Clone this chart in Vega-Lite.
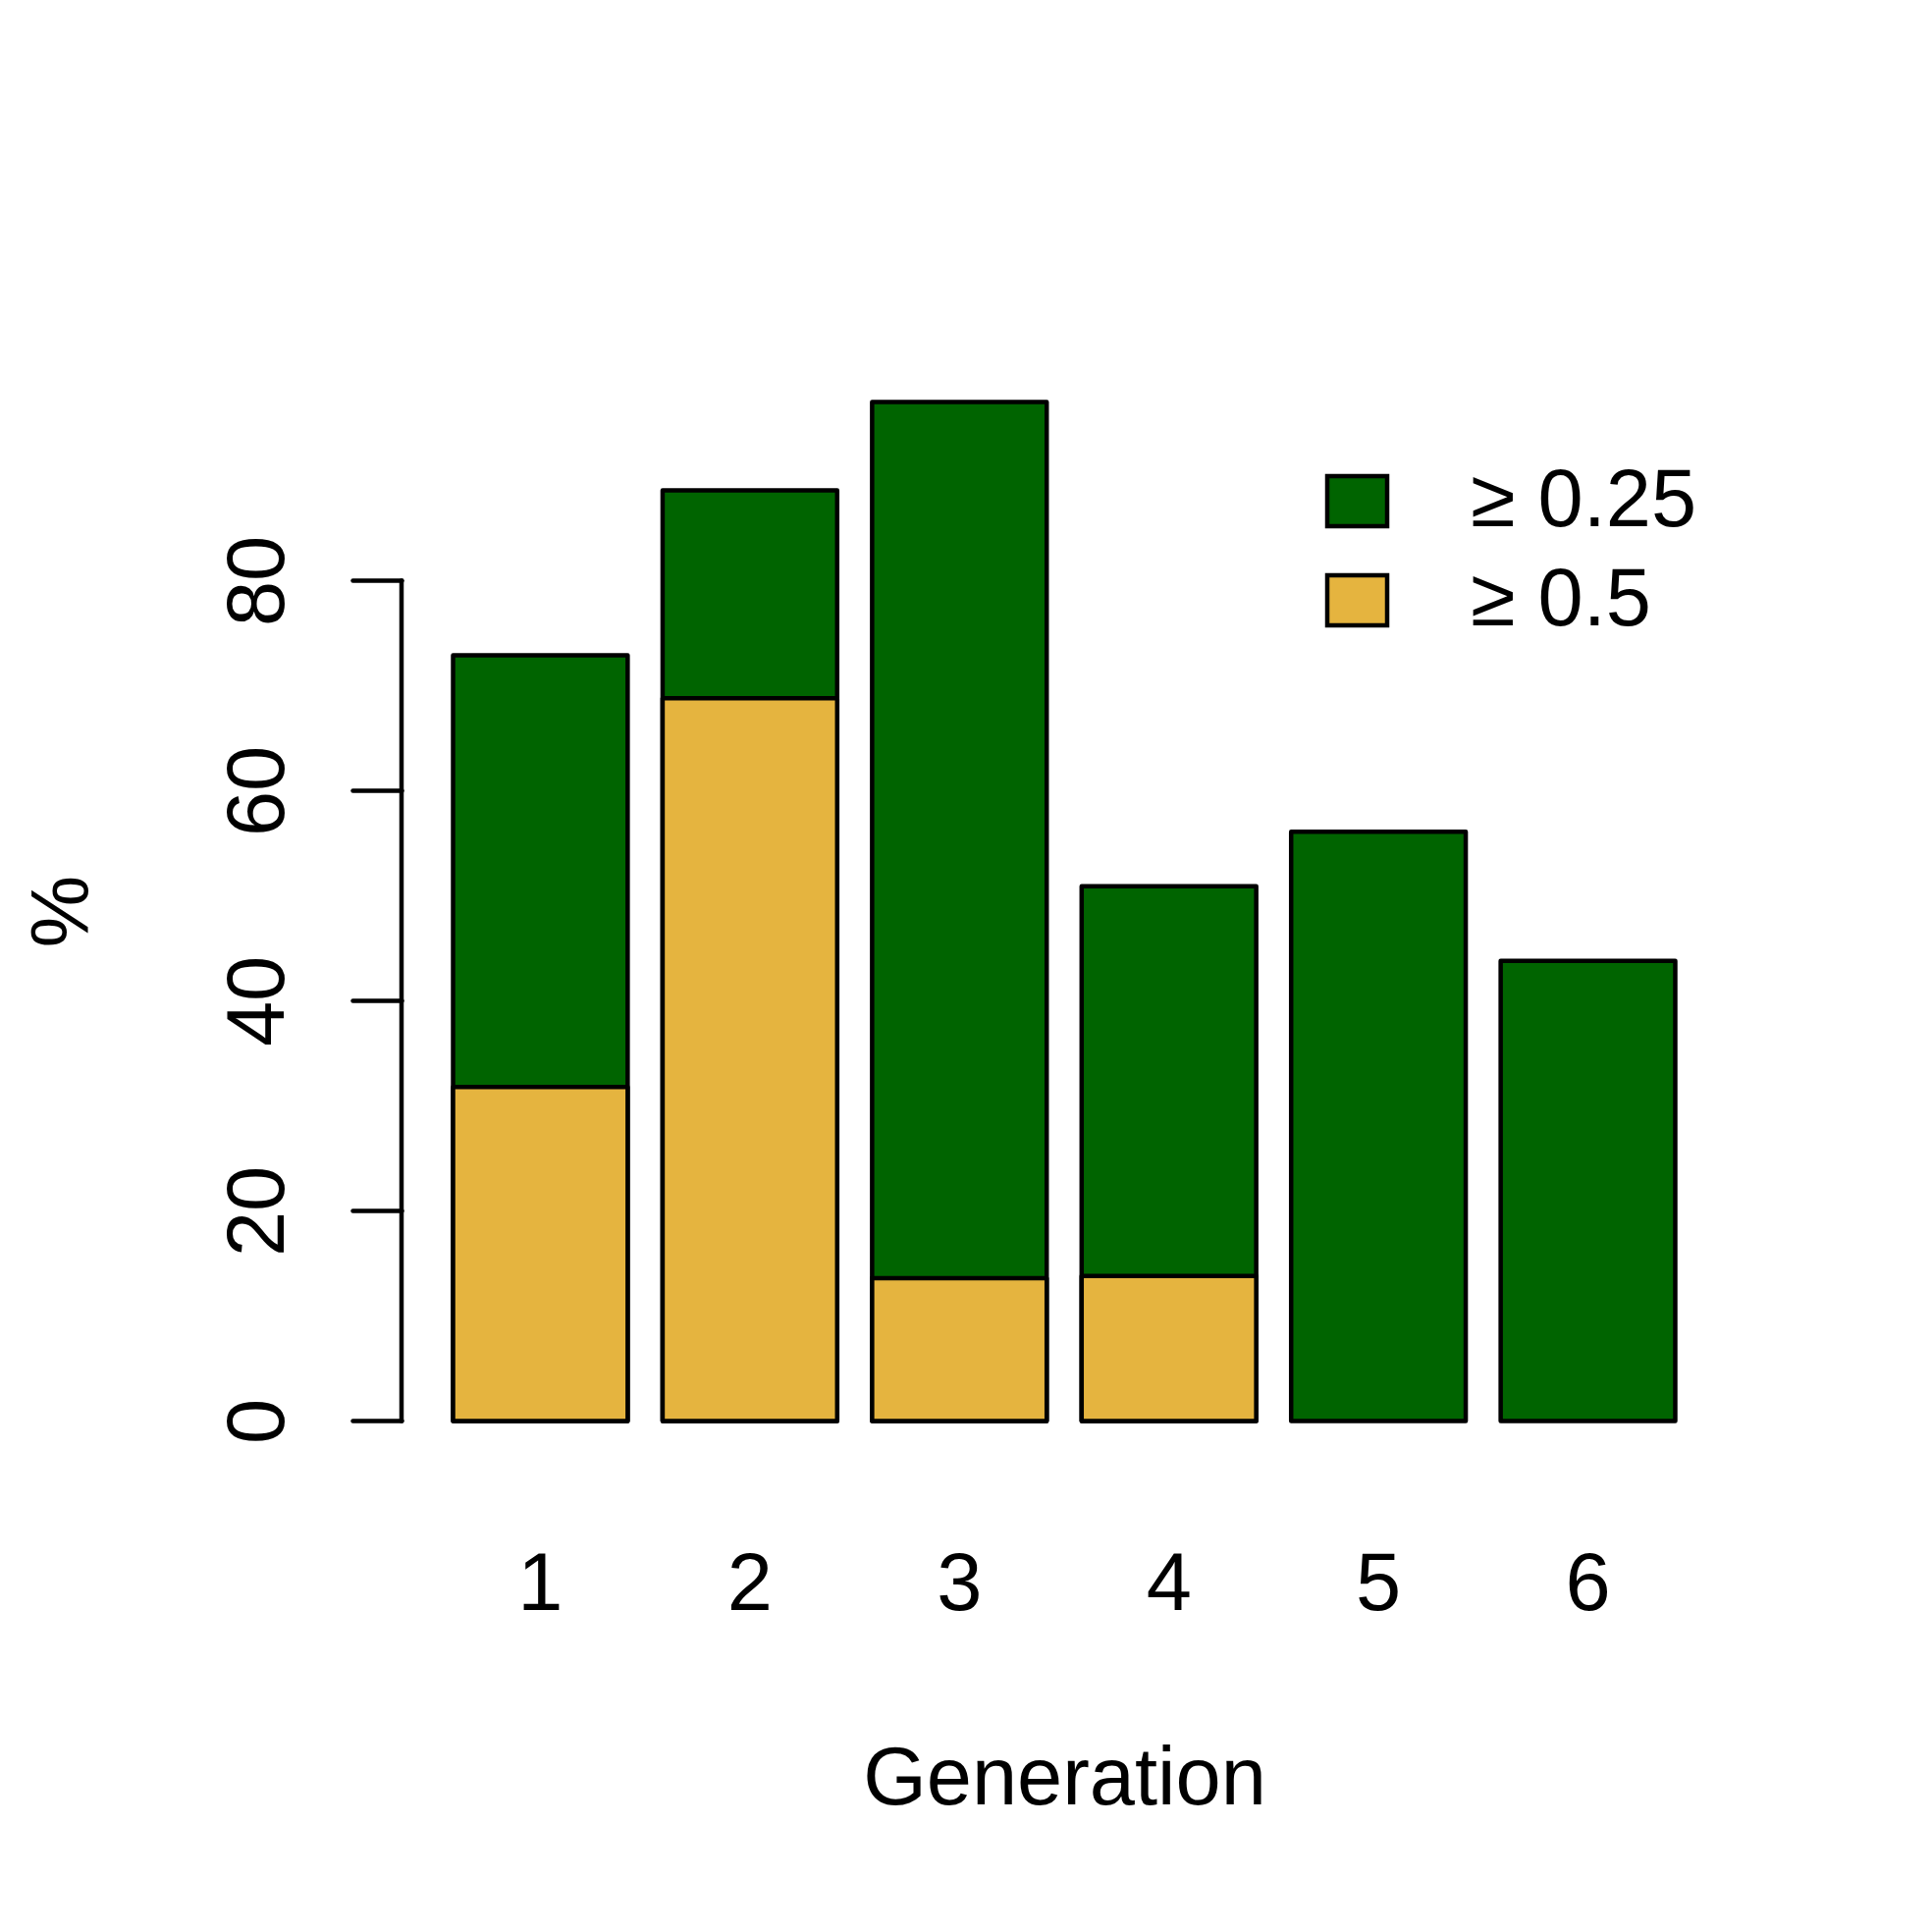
{
  "$schema": "https://vega.github.io/schema/vega-lite/v6.json",
  "width": 1344,
  "height": 1121,
  "autosize": {"type": "none"},
  "padding": {"left": 412, "top": 368, "right": 212, "bottom": 479},
  "background": "white",
  "config": {"view": {"stroke": null}, "font": "Liberation Sans"},
  "layer": [
    {
      "data": {
        "values": [
          {"Generation": "1", "Level": "≥ 0.25", "Percent": 72.9},
          {"Generation": "2", "Level": "≥ 0.25", "Percent": 88.6},
          {"Generation": "3", "Level": "≥ 0.25", "Percent": 97.0},
          {"Generation": "4", "Level": "≥ 0.25", "Percent": 50.9},
          {"Generation": "5", "Level": "≥ 0.25", "Percent": 56.1},
          {"Generation": "6", "Level": "≥ 0.25", "Percent": 43.8},
          {"Generation": "1", "Level": "≥ 0.5", "Percent": 31.8},
          {"Generation": "2", "Level": "≥ 0.5", "Percent": 68.8},
          {"Generation": "3", "Level": "≥ 0.5", "Percent": 13.6},
          {"Generation": "4", "Level": "≥ 0.5", "Percent": 13.8}
        ]
      },
      "mark": {"type": "bar", "stroke": "black", "strokeWidth": 4.5, "strokeJoin": "round"},
      "encoding": {
        "x": {
          "field": "Generation",
          "type": "ordinal",
          "scale": {"paddingInner": 0.16667, "paddingOuter": 0.232},
          "axis": {
            "title": "Generation",
            "labelAngle": 0,
            "domain": false,
            "ticks": false,
            "tickSize": 0,
            "labelFontSize": 83,
            "labelBaseline": "alphabetic",
            "labelPadding": 150,
            "labelColor": "black",
            "titleFontSize": 83,
            "titleFontWeight": "normal",
            "titleBaseline": "alphabetic",
            "titleY": 348,
            "titleColor": "black"
          }
        },
        "y": {
          "field": "Percent",
          "type": "quantitative",
          "scale": {"domain": [-3.88, 100.88], "nice": false, "zero": false},
          "axis": {
            "title": "%",
            "values": [0, 20, 40, 60, 80],
            "domain": false,
            "grid": false,
            "offset": 3,
            "tickSize": 50,
            "tickWidth": 4.5,
            "tickColor": "black",
            "tickCap": "round",
            "labelAngle": -90,
            "labelAlign": "center",
            "labelBaseline": "alphabetic",
            "labelPadding": 71,
            "labelFontSize": 83,
            "labelColor": "black",
            "labelOverlap": false,
            "titleFontSize": 83,
            "titleFontWeight": "normal",
            "titleAngle": -90,
            "titleAlign": "center",
            "titleBaseline": "alphabetic",
            "titleX": -320,
            "titleY": 560,
            "titleColor": "black"
          }
        },
        "y2": {"datum": 0},
        "color": {
          "field": "Level",
          "type": "nominal",
          "scale": {"domain": ["≥ 0.25", "≥ 0.5"], "range": ["#006400", "#E5B43F"]},
          "legend": {
            "title": null,
            "orient": "none",
            "legendX": 929,
            "legendY": 101,
            "padding": 0,
            "symbolType": "M-1,-0.84H1V0.84H-1Z",
            "symbolSize": 3721,
            "symbolStrokeColor": "black",
            "symbolStrokeWidth": 4.5,
            "labelFontSize": 83,
            "labelOffset": 74,
            "labelLimit": 600,
            "labelColor": "black",
            "rowPadding": 17
          }
        }
      }
    },
    {
      "data": {"values": [{}]},
      "mark": {"type": "rule", "strokeWidth": 4.5, "color": "black", "strokeCap": "round"},
      "encoding": {
        "x": {"value": -3},
        "y": {"datum": 0},
        "y2": {"datum": 80}
      }
    }
  ]
}
